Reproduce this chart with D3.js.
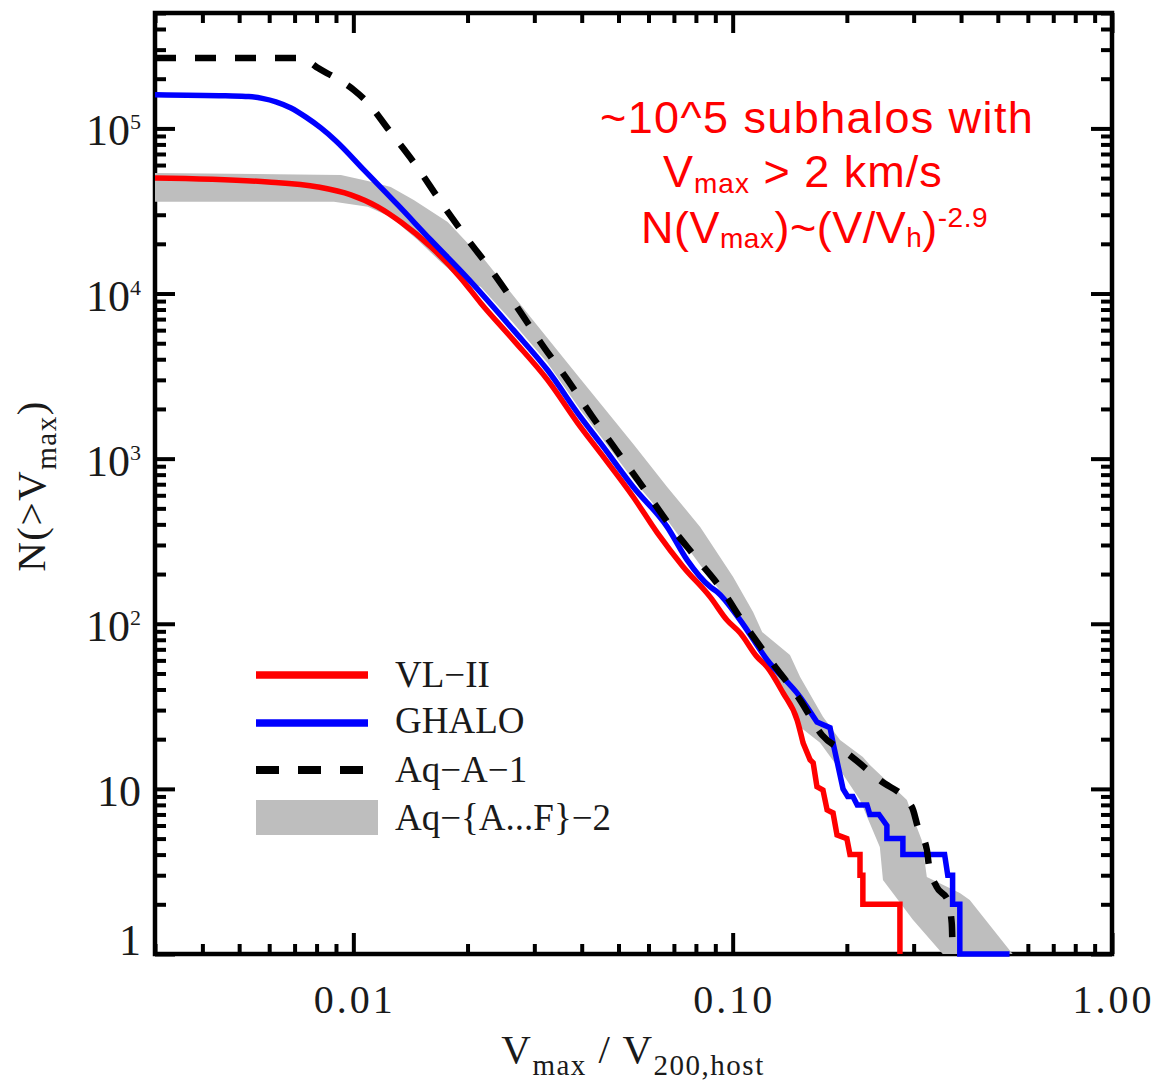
<!DOCTYPE html>
<html><head><meta charset="utf-8">
<script src="https://cdn.jsdelivr.net/npm/d3@7"></script>
<style>body{margin:0;background:#fff}svg{display:block}</style>
</head><body>
<svg id="c" width="1155" height="1081"></svg>
<script>
// ---------- data ----------
const xDomain = [0.003, 1];
const yDomain = [1, 5e5];
const xMajor = [0.01, 0.1, 1];
const xMajorLabels = ["0.01", "0.10", "1.00"];
const yMajor = [1, 10, 100, 1000, 10000, 100000];
const yMajorBase = ["1", "10", "10", "10", "10", "10"];
const yMajorExp  = ["", "", "2", "3", "4", "5"];

const seriesNames = ["VL\u2212II", "GHALO", "Aq\u2212A\u22121", "Aq\u2212{A...F}\u22122"];

// smooth part (head) and step part (tail) of each cumulative curve
const vl2Head = [[0.003,5.01e4],[0.00596,4.74e4],[0.00807,4.42e4],[0.00985,3.96e4],[0.0116,3.35e4],[0.01334,2.71e4],[0.016,1.92e4],[0.0192,1.24e4],[0.02166,8770],[0.0264,5240],[0.0325,3000],[0.0397,1556],[0.0448,1083],[0.0547,586],[0.0633,355],[0.0741,221],[0.0873,145],[0.0967,105],[0.1047,88],[0.116,63],[0.1233,54.7],[0.1358,38.1],[0.1479,26.1],[0.1533,19]];
const vl2Tail = [[0.1533,19],[0.160,15],[0.163,14.4],[0.1668,10.3],[0.173,9.85],[0.1774,7.45],[0.1839,7.15],[0.1884,5.26],[0.200,5],[0.2038,4],[0.2166,4],[0.2166,3],[0.2204,3],[0.2204,2],[0.276,2],[0.276,1]];

const ghaloHead = [[0.003,1.60e5],[0.0046,1.575e5],[0.0053,1.56e5],[0.00575,1.52e5],[0.00625,1.45e5],[0.00685,1.33e5],[0.0075,1.17e5],[0.00821,1.007e5],[0.009,8.40e4],[0.01066,5.61e4],[0.0131,3.44e4],[0.016,2.11e4],[0.020,1.24e4],[0.0264,6020],[0.0325,3440],[0.0397,1790],[0.0448,1245],[0.0547,674],[0.0672,386],[0.0759,243],[0.0873,167],[0.091,156],[0.1047,105],[0.1233,60.4],[0.1506,36.0],[0.1668,25.4]];
const ghaloTail = [[0.1668,25.4],[0.1806,23.5],[0.1839,19],[0.1954,10],[0.201,9],[0.2075,9],[0.213,8],[0.226,8],[0.230,7],[0.243,7],[0.255,6],[0.255,5],[0.281,5],[0.281,4],[0.362,4],[0.369,3],[0.380,3],[0.380,2],[0.397,2],[0.397,1],[0.537,1]];

const aqA1 = [[0.003,2.67e5],[0.00714,2.67e5],[0.00759,2.56e5],[0.00807,2.32e5],[0.00889,2.05e5],[0.01003,1.71e5],[0.01092,1.43e5],[0.0124,9.8e4],[0.0146,6.0e4],[0.0170,3.59e4],[0.0198,2.20e4],[0.0233,1.35e4],[0.0271,8180],[0.0315,4880],[0.0367,3000],[0.0427,1790],[0.0497,1099],[0.0582,665],[0.0676,408],[0.0797,254],[0.0938,160],[0.106,104],[0.1255,60.4],[0.1506,34.5],[0.172,21.2],[0.200,16.5],[0.2443,11.3],[0.2968,7.77],[0.3077,5.88],[0.325,4.27],[0.329,3.46],[0.345,2.55],[0.369,2.12],[0.378,1.54],[0.380,1]];

const aqBandUpper = [[0.003,5.37e4],[0.00927,5.23e4],[0.01092,4.81e4],[0.01255,4.42e4],[0.01443,3.69e4],[0.01773,2.71e4],[0.020,2.02e4],[0.02166,1.71e4],[0.0293,7220],[0.0397,3040],[0.0547,1228],[0.0672,674],[0.0821,386],[0.1003,192],[0.1132,118],[0.1196,89],[0.1416,64.7],[0.1506,47.6],[0.173,27.3],[0.1919,19.8],[0.2204,15.6],[0.230,13.95],[0.288,8.57],[0.2986,6.76],[0.315,4.9],[0.325,2.93],[0.397,2.34],[0.4217,2.12],[0.547,1]];

const aqBandLower = [[0.003,3.59e4],[0.00889,3.59e4],[0.01092,3.35e4],[0.01255,2.91e4],[0.01478,2.11e4],[0.0170,1.55e4],[0.0192,1.21e4],[0.02166,1.10e4],[0.0264,6640],[0.0325,3800],[0.0397,1972],[0.0448,1372],[0.0547,743],[0.0672,425],[0.0821,227],[0.1003,125],[0.118,73.4],[0.127,57.1],[0.135,37.0],[0.1506,23.7],[0.170,19.0],[0.1919,13.0],[0.2166,8.57],[0.2443,4.45],[0.249,2.81],[0.2643,2.34],[0.2986,1.61],[0.358,1]];

// ---------- chart ----------
const L = 155, R = 1112, T = 13, B = 954;
const svg = d3.select("#c");
const x = d3.scaleLog().domain(xDomain).range([L, R]);
const y = d3.scaleLog().domain(yDomain).range([B, T]);

const isMajor = v => Math.abs(Math.log10(v) - Math.round(Math.log10(v))) < 1e-9;
const xMinor = x.ticks().filter(v => !isMajor(v));
const yMinor = y.ticks().filter(v => !isMajor(v));

function styleAxis(g) {
  g.select(".domain").remove();
  g.selectAll(".tick line").attr("stroke", "#000").attr("stroke-width", 4);
}
const axes = svg.append("g");
axes.append("g").attr("transform", `translate(0,${B})`)
  .call(d3.axisBottom(x).tickValues(xMajor).tickSizeInner(-21).tickSizeOuter(0).tickFormat("")).call(styleAxis);
axes.append("g").attr("transform", `translate(0,${B})`)
  .call(d3.axisBottom(x).tickValues(xMinor).tickSizeInner(-10).tickSizeOuter(0).tickFormat("")).call(styleAxis);
axes.append("g").attr("transform", `translate(0,${T})`)
  .call(d3.axisTop(x).tickValues(xMajor).tickSizeInner(-20).tickSizeOuter(0).tickFormat("")).call(styleAxis);
axes.append("g").attr("transform", `translate(0,${T})`)
  .call(d3.axisTop(x).tickValues(xMinor).tickSizeInner(-10).tickSizeOuter(0).tickFormat("")).call(styleAxis);
axes.append("g").attr("transform", `translate(${L},0)`)
  .call(d3.axisLeft(y).tickValues(yMajor).tickSizeInner(-20).tickSizeOuter(0).tickFormat("")).call(styleAxis);
axes.append("g").attr("transform", `translate(${L},0)`)
  .call(d3.axisLeft(y).tickValues(yMinor).tickSizeInner(-11).tickSizeOuter(0).tickFormat("")).call(styleAxis);
axes.append("g").attr("transform", `translate(${R},0)`)
  .call(d3.axisRight(y).tickValues(yMajor).tickSizeInner(-21).tickSizeOuter(0).tickFormat("")).call(styleAxis);
axes.append("g").attr("transform", `translate(${R},0)`)
  .call(d3.axisRight(y).tickValues(yMinor).tickSizeInner(-11).tickSizeOuter(0).tickFormat("")).call(styleAxis);

svg.append("rect").attr("x", L).attr("y", T).attr("width", R - L).attr("height", B - T)
  .attr("fill", "none").attr("stroke", "#000").attr("stroke-width", 4.5);

// clip
svg.append("clipPath").attr("id", "clip").append("rect")
  .attr("x", L - 2).attr("y", T).attr("width", R - L + 2).attr("height", B - T + 3);
const plot = svg.append("g").attr("clip-path", "url(#clip)");

const line = d3.line().x(d => x(d[0])).y(d => y(d[1]));
const smooth = d3.line().x(d => x(d[0])).y(d => y(d[1])).curve(d3.curveMonotoneX);
const joined = (head, tail) => smooth(head) + line(tail).replace(/^M/, "L");

const bandPoly = aqBandUpper.concat(aqBandLower.slice().reverse());
plot.append("path").attr("d", line(bandPoly) + "Z").attr("fill", "#bebebe").attr("stroke", "none");
plot.append("path").attr("d", joined(vl2Head, vl2Tail)).attr("fill", "none").attr("stroke", "#ff0000")
  .attr("stroke-width", 5.5).attr("stroke-linejoin", "miter");
plot.append("path").attr("d", joined(ghaloHead, ghaloTail)).attr("fill", "none").attr("stroke", "#0000ff")
  .attr("stroke-width", 5.5).attr("stroke-linejoin", "miter");
plot.append("path").attr("d", smooth(aqA1)).attr("fill", "none").attr("stroke", "#000")
  .attr("stroke-width", 6.5).attr("stroke-dasharray", "21,19");

// tick labels
const serif = "'Liberation Serif','DejaVu Serif',serif";
xMajor.forEach((v, i) => {
  svg.append("text").attr("x", x(v) + 1.5).attr("y", 1013)
    .attr("text-anchor", "middle").attr("font-family", serif).attr("font-size", 40)
    .attr("letter-spacing", 3).attr("fill", "#1a1a1a").text(xMajorLabels[i]);
});
yMajor.forEach((v, i) => {
  const by = Math.min(y(v) + 17, 955);
  const t = svg.append("text").attr("x", 141).attr("y", by).attr("text-anchor", "end")
    .attr("font-family", serif).attr("font-size", 44).attr("fill", "#1a1a1a");
  t.append("tspan").text(yMajorBase[i]);
  if (yMajorExp[i]) t.append("tspan").attr("font-size", 22).attr("dy", -16).text(yMajorExp[i]);
});

// axis titles
const xt = svg.append("text").attr("x", 633).attr("y", 1063).attr("text-anchor", "middle")
  .attr("font-family", serif).attr("font-size", 41).attr("letter-spacing", 1.5).attr("fill", "#1a1a1a");
xt.append("tspan").text("V");
xt.append("tspan").attr("font-size", 29).attr("dy", 12).text("max");
xt.append("tspan").attr("dy", -12).text(" / V");
xt.append("tspan").attr("font-size", 29).attr("dy", 12).text("200,host");

const yt = svg.append("text").attr("transform", "translate(45,486) rotate(-90)").attr("text-anchor", "middle")
  .attr("font-family", serif).attr("font-size", 41).attr("letter-spacing", 1.5).attr("fill", "#1a1a1a");
yt.append("tspan").text("N(>V");
yt.append("tspan").attr("font-size", 29).attr("dy", 11).text("max");
yt.append("tspan").attr("dy", -11).text(")");

// legend
const lg = svg.append("g");
const legX1 = 256, legX2 = 368, legTextX = 395;
lg.append("line").attr("x1", legX1).attr("x2", legX2).attr("y1", 675).attr("y2", 675)
  .attr("stroke", "#ff0000").attr("stroke-width", 7.5);
lg.append("line").attr("x1", legX1).attr("x2", legX2).attr("y1", 723).attr("y2", 723)
  .attr("stroke", "#0000ff").attr("stroke-width", 7.5);
lg.append("line").attr("x1", legX1).attr("x2", 363).attr("y1", 770).attr("y2", 770)
  .attr("stroke", "#000").attr("stroke-width", 8).attr("stroke-dasharray", "23,19");
lg.append("rect").attr("x", legX1).attr("y", 800).attr("width", 122).attr("height", 35).attr("fill", "#bebebe");
[687, 733, 782, 830].forEach((by, i) => {
  lg.append("text").attr("x", legTextX).attr("y", by).attr("font-family", serif)
    .attr("font-size", 37).attr("fill", "#1a1a1a").text(seriesNames[i]);
});

// annotation
const sans = "'Liberation Sans', Arial, sans-serif";
const red = "#ff0000";
svg.append("text").attr("x", 600).attr("y", 133).attr("font-family", sans).attr("font-size", 45)
  .attr("letter-spacing", 1.4).attr("fill", red).text("~10^5 subhalos with");
const a2 = svg.append("text").attr("x", 663).attr("y", 187).attr("font-family", sans).attr("font-size", 45)
  .attr("letter-spacing", 1).attr("fill", red);
a2.append("tspan").text("V");
a2.append("tspan").attr("font-size", 28).attr("dy", 6).text("max");
a2.append("tspan").attr("dy", -6).text(" > 2 km/s");
const a3 = svg.append("text").attr("x", 641).attr("y", 243).attr("font-family", sans).attr("font-size", 45)
  .attr("letter-spacing", 0.5).attr("fill", red);
a3.append("tspan").text("N(V");
a3.append("tspan").attr("font-size", 28).attr("dy", 5).text("max");
a3.append("tspan").attr("dy", -5).text(")~(V/V");
a3.append("tspan").attr("font-size", 28).attr("dy", 4).text("h");
a3.append("tspan").attr("dy", -4).text(")");
a3.append("tspan").attr("font-size", 28).attr("dy", -16).text("-2.9");
</script>
</body></html>
